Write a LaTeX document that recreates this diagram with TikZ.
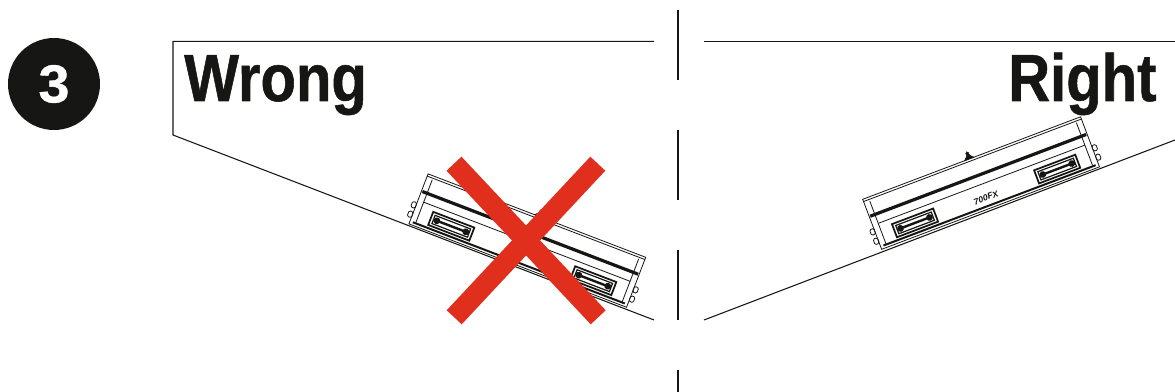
\documentclass[tikz,border=0pt]{standalone}
\usepackage{fontspec}
\setmainfont{Liberation Sans}
\newfontfamily\titlefont[FakeStretch=0.87,FakeBold=0.8]{Liberation Sans Bold}
\newfontfamily\badgefont[FakeStretch=1.05,FakeBold=0.8]{Liberation Sans Bold}
\definecolor{ink}{HTML}{161615}
\definecolor{xred}{HTML}{E02F1D}
\tikzset{
  thinln/.style={draw=ink,line width=0.8pt},
  boxln/.style={draw=ink,line width=0.6pt},
  thickln/.style={draw=ink,line width=2.4pt},
  title/.style={font=\titlefont\fontsize{50}{50}\selectfont,text=ink,inner sep=0pt,anchor=base west},
  crossarm/.style={draw=xred,line width=15.4pt},
  divider/.style={draw=ink,line width=1.1pt}
}
\newcommand{\lockbox}{%
  \draw[boxln] (0,0) rectangle (233,53.5);
  \draw[boxln] (0,2.4) -- (233,2.4);
  \draw[boxln] (6,4) -- (6,50) (227,4) -- (227,50);
  \draw[thickln] (1,18.5) -- (232,18.5);
  \draw[boxln] (6,28) -- (227,28);
  \draw[draw=ink,line width=1.5pt] (3,50.6) -- (230,50.6);
  % knob
  \filldraw[fill=ink,draw=ink,line width=0.4pt] (109,0) -- (112,-3) -- (112.8,-5) -- (115.2,-5) -- (116,-3) -- (119,0) -- cycle;
  \filldraw[fill=ink,draw=ink] (114,-6) circle (1.6);
  % side bolts
  \foreach \yy in {31,41}{
    \draw[boxln,rounded corners=1pt] (233,\yy) rectangle (237.5,\yy+6);
    \draw[boxln,rounded corners=1pt] (-4.5,\yy) rectangle (0,\yy+6);
  }
  % handles
  \foreach \cx in {40.6,192.6}{
    \begin{scope}[shift={(\cx,40.6)}]
      \draw[draw=ink,line width=1.3pt] (-22,-7) rectangle (22,7);
      \draw[draw=ink,line width=0.9pt] (-19,-4.4) rectangle (19,4.4);
      \draw[draw=ink,line width=1.8pt] (-14,0) -- (14,0);
      \fill[ink] (-15.5,0) circle (3.4) (15.5,0) circle (3.4);
    \end{scope}
  }
}
\begin{document}
\begin{tikzpicture}[x=0.75pt,y=-0.75pt]
\useasboundingbox (0,0) rectangle (1175,392);
% number badge
\node[circle,fill=ink,minimum size=69pt,inner sep=0pt,font=\badgefont\fontsize{40}{40}\selectfont,text=white] (badge) at (54,84) {3};
% titles
\node[title] (wrong) at (184,101) {Wrong};
\node[title] (right) at (1008,101) {Right};
% frames
\coordinate (wa) at (654,41.4);
\coordinate (wb) at (173,41.4);
\coordinate (wc) at (173,135);
\coordinate (wd) at (654,320);
\draw[thinln] (wa) -- (wb) -- (wc) -- (wd);
\coordinate (ra) at (704,41.4);
\coordinate (rb) at (1175,41.4);
\coordinate (rc) at (704,320);
\coordinate (rd) at (1175,140);
\draw[thinln] (ra) -- (rb);
\draw[thinln] (rc) -- (rd);
% divider
\foreach \ya/\yb in {10/80,130/200,250/320,370/392}{
  \draw[divider] (678,\ya) -- (678,\yb);
}
% right box
\begin{scope}[shift={(862.7,199.3)},cm={0.935,0.354,-0.354,0.935,(0,0)}]
  \fill[white] (0,0) rectangle (233,53.5);
  \lockbox
\end{scope}
\node[rotate=20.75,font=\fontsize{6.5}{6.5}\selectfont\bfseries\itshape,text=ink,inner sep=0pt] (model) at (986,197.7) {700FX};
% wrong box
\begin{scope}[shift={(645.7,257.3)},cm={-0.934,0.358,0.358,0.934,(0,0)}]
  \fill[white] (0,0) rectangle (233,53.5);
  \lockbox
\end{scope}
% cross
\coordinate (xa) at (454,163.7);
\coordinate (xb) at (598.2,317.3);
\coordinate (xc) at (597.8,163.7);
\coordinate (xd) at (454.2,317.3);
\draw[crossarm] (xa) -- (xb);
\draw[crossarm] (xc) -- (xd);
\end{tikzpicture}
\end{document}
